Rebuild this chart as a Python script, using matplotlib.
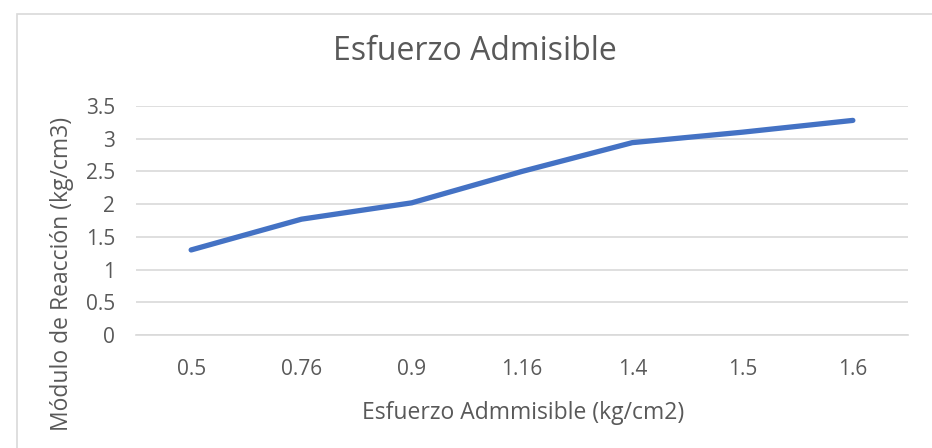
import matplotlib.pyplot as plt
from matplotlib.patches import Rectangle

categories = ['0.5', '0.76', '0.9', '1.16', '1.4', '1.5', '1.6']
modulo = [1.3, 1.77, 2.02, 2.5, 2.94, 3.1, 3.28]
yticks = [0, 0.5, 1, 1.5, 2, 2.5, 3, 3.5]

plt.rcParams['font.family'] = ['Open Sans', 'DejaVu Sans']
txt = '#595959'

fig = plt.figure(figsize=(9.32, 4.48), dpi=100)
ax = fig.add_axes([136/932, 1-335/448, 772/932, 229/448])

# chart border
fig.patches.append(Rectangle((17/932, -0.1), 1.0, 1 - 14/448 + 0.1, transform=fig.transFigure,
                             fill=False, edgecolor='#d9d9d9', linewidth=1.2))

x = range(len(categories))
ax.plot(x, modulo, color='#4472C4', linewidth=3.8, solid_capstyle='round', solid_joinstyle='round')

ax.set_xlim(-0.5, len(categories) - 0.5)
ax.set_ylim(0, 3.5)
ax.set_yticks(yticks)
ax.set_yticklabels([f'{v:g}' for v in yticks])
ax.set_xticks(list(x))
ax.set_xticklabels(categories)
ax.grid(axis='y', color='#d9d9d9', linewidth=1.2)
ax.set_axisbelow(True)
for s in ['top', 'right', 'left']:
    ax.spines[s].set_visible(False)
ax.spines['bottom'].set_color('#d9d9d9')
ax.spines['bottom'].set_linewidth(1.2)
ax.tick_params(length=0, labelsize=15, colors=txt)
ax.tick_params(axis='x', pad=17)
ax.tick_params(axis='y', pad=15)

fig.text(475/932, 1-52/448, 'Esfuerzo Admisible', ha='center', va='center', fontsize=23, color=txt)
fig.text(523/932, 1-413/448, 'Esfuerzo Admmisible (kg/cm2)', ha='center', va='center', fontsize=16.5, color=txt)
fig.text(62/932, 1-274/448, 'Módulo de Reacción (kg/cm3)', ha='center', va='center', rotation=90,
         fontsize=16.5, color=txt)

fig.savefig('out.png', dpi=100)
